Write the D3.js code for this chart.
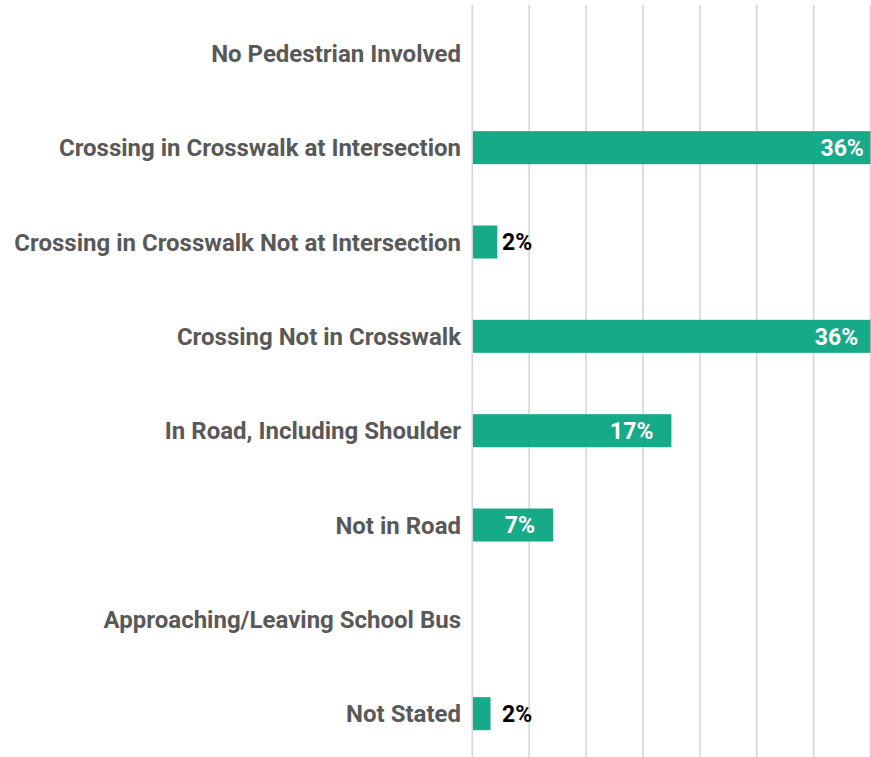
<!DOCTYPE html>
<html><head><meta charset="utf-8">
<script src="https://cdn.jsdelivr.net/npm/d3@7"></script>
<style>body{margin:0;background:#fff}svg{display:block}</style>
</head><body><svg id="c" width="871" height="757"></svg>
<script>
const categories = ["No Pedestrian Involved","Crossing in Crosswalk at Intersection","Crossing in Crosswalk Not at Intersection","Crossing Not in Crosswalk","In Road, Including Shoulder","Not in Road","Approaching/Leaving School Bus","Not Stated"];
const values = [0, 36.0, 2.2, 35.5, 17.5, 7.1, 0, 1.6];
const labels = ["", "36%", "2%", "36%", "17%", "7%", "", "2%"];
const ticks = [0,5,10,15,20,25,30,35];

const svg = d3.select("#c");
const x = d3.scaleLinear().domain([0,35]).range([472.3, 870.5]);
const y = d3.scaleBand().domain(categories).range([5,762]).paddingInner(0.65).paddingOuter(0.3375);
const font = "Roboto, 'Noto Sans', sans-serif";

svg.append("g").selectAll("line").data(ticks).join("line")
  .attr("x1", d=>x(d)).attr("x2", d=>x(d)).attr("y1",5).attr("y2",757)
  .attr("stroke","#d6d6d6").attr("stroke-width",1.6);

const data = categories.map((c,i)=>({c, v:values[i], l:labels[i]}));

svg.append("g").selectAll("rect").data(data.filter(d=>d.v>0)).join("rect")
  .attr("x", x(0)+0.7).attr("y", d=>y(d.c))
  .attr("width", d=>x(Math.min(d.v,35))-x(0)-0.7).attr("height", y.bandwidth())
  .attr("fill","#17aa89");

svg.append("g").selectAll("text").data(data).join("text")
  .attr("x", 461).attr("y", d=>y(d.c)+y.bandwidth()/2).attr("dy","0.36em")
  .attr("text-anchor","end").attr("font-family",font).attr("font-weight",700)
  .attr("font-size",24).attr("fill","#595959").text(d=>d.c);

svg.append("g").selectAll("text").data(data.filter(d=>d.v>0)).join("text")
  .attr("x", d=> d.v>5 ? x(d.v)-18 : x(Math.round(d.v))+7)
  .attr("y", d=>y(d.c)+y.bandwidth()/2).attr("dy","0.36em")
  .attr("text-anchor", d=> d.v>5 ? "end" : "start")
  .attr("font-family",font).attr("font-weight",700).attr("font-size",23)
  .attr("fill", d=> d.v>5 ? "#ffffff" : "#000000").text(d=>d.l);
</script></body></html>
